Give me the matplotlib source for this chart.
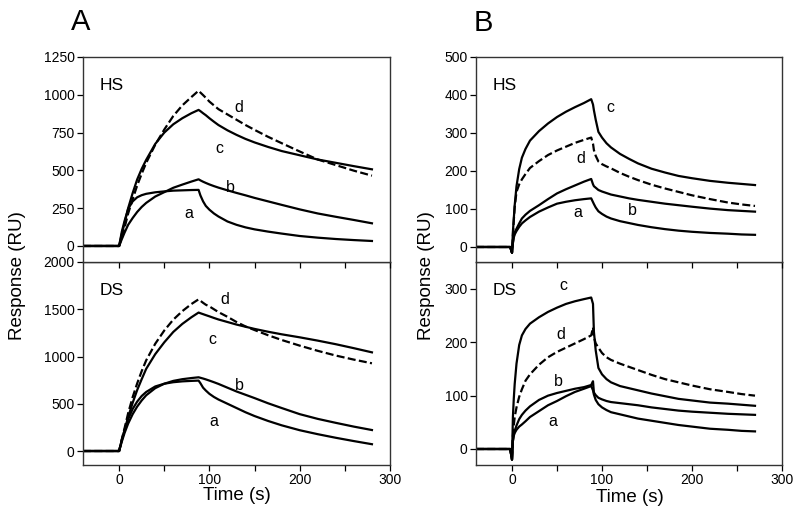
import matplotlib
matplotlib.use("Agg")
import matplotlib.pyplot as plt

plt.rcParams['font.family'] = ['Liberation Sans', 'DejaVu Sans']

# ---------------- data ----------------
# Panel A time grid (s)
t_A = [-40, -1, 0, 3, 6, 10, 15, 20, 25, 30, 40, 50, 60, 70, 80, 88, 90, 93, 96,
       100, 105, 110, 120, 130, 140, 150, 165, 180, 200, 220, 240, 260, 280]

# Panel A, HS (RU)
A_HS_a = [0, 0, 0, 95, 165, 245, 295, 322, 336, 345, 355, 361, 366, 368, 370, 371, 335, 295, 265,
          240, 215, 195, 162, 140, 123, 110, 95, 82, 66, 55, 46, 39, 33]
A_HS_b = [0, 0, 0, 45, 88, 140, 185, 225, 258, 285, 327, 356, 385, 406, 426, 441, 434, 425, 417,
          407, 396, 386, 368, 351, 335, 318, 295, 272, 242, 215, 193, 172, 150]
A_HS_c = [0, 0, 0, 80, 150, 250, 350, 440, 510, 570, 675, 750, 805, 845, 878, 900, 892, 878, 865,
          845, 822, 800, 765, 735, 708, 685, 655, 628, 600, 572, 550, 528, 507]
A_HS_d = [0, 0, 0, 55, 120, 215, 310, 400, 478, 550, 670, 770, 860, 930, 985, 1027, 1015, 998, 980,
          955, 930, 905, 870, 835, 800, 768, 722, 680, 625, 572, 535, 498, 465]

# Panel A, DS (RU)
A_DS_a = [0, 0, 0, 120, 220, 337, 445, 523, 582, 625, 683, 712, 728, 737, 742, 745, 718, 670, 640,
          605, 572, 545, 500, 455, 410, 370, 318, 272, 220, 178, 140, 105, 72]
A_DS_b = [0, 0, 0, 100, 190, 290, 390, 470, 535, 590, 665, 712, 742, 760, 772, 780, 775, 767, 758,
          745, 728, 710, 670, 630, 595, 560, 505, 455, 390, 340, 298, 258, 222]
A_DS_c = [0, 0, 0, 115, 220, 360, 510, 645, 760, 870, 1025, 1150, 1260, 1345, 1415, 1465, 1458, 1448, 1438,
          1425, 1408, 1392, 1365, 1338, 1315, 1292, 1262, 1235, 1203, 1168, 1130, 1088, 1044]
A_DS_d = [0, 0, 0, 125, 240, 400, 570, 715, 845, 960, 1135, 1275, 1390, 1480, 1555, 1605, 1590, 1568, 1548,
          1530, 1500, 1470, 1420, 1365, 1318, 1280, 1225, 1175, 1115, 1060, 1010, 967, 928]

# Panel B time grid (s)
t_B = [-40, -10, -2, 0, 1, 2, 3, 5, 8, 11, 15, 20, 30, 40, 50, 60, 70, 80, 88, 90, 91, 93, 96,
       100, 105, 110, 120, 130, 140, 155, 170, 185, 200, 220, 240, 255, 270]

# Panel B, HS (RU)
B_HS_a = [0, 0, 0, -15, 10, 25, 33, 42, 53, 62, 70, 79, 93, 104, 114, 119, 123, 126, 128, 118, 113, 104, 94,
          87, 80, 75, 68, 63, 58, 52, 47, 43, 40, 37, 35, 33, 32]
B_HS_b = [0, 0, 0, -15, 12, 28, 38, 48, 62, 75, 85, 95, 110, 126, 141, 152, 162, 172, 179, 165, 160, 156, 150,
          146, 142, 138, 133, 128, 124, 119, 114, 110, 106, 101, 97, 95, 93]
B_HS_c = [0, 0, 0, -15, 40, 75, 110, 160, 205, 235, 258, 280, 305, 325, 342, 356, 368, 379, 389, 375, 360, 335, 303,
          288, 273, 262, 245, 232, 220, 206, 196, 187, 181, 174, 169, 166, 163]
B_HS_d = [0, 0, 0, -15, 30, 70, 105, 145, 165, 178, 192, 208, 226, 242, 254, 264, 274, 282, 288, 272, 255, 240, 225,
          218, 212, 207, 195, 185, 176, 164, 154, 145, 136, 126, 117, 112, 108]

# Panel B, DS (RU)
B_DS_a = [0, 0, 0, -20, 15, 25, 30, 36, 42, 46, 52, 60, 71, 82, 90, 99, 107, 113, 118, 110, 102, 92, 84,
          78, 73, 69, 65, 61, 57, 53, 49, 45, 42, 38, 36, 34, 33]
B_DS_b = [0, 0, 0, -20, 15, 27, 34, 44, 56, 64, 72, 80, 92, 100, 105, 109, 113, 116, 120, 127, 106, 101, 96,
          93, 90, 88, 86, 84, 82, 78, 75, 72, 70, 68, 66, 65, 64]
B_DS_c = [0, 0, 0, -20, 60, 95, 122, 160, 195, 213, 225, 235, 247, 257, 265, 272, 277, 281, 284, 272, 220, 185, 152,
          140, 131, 125, 118, 114, 110, 104, 99, 94, 91, 87, 85, 83, 81]
B_DS_d = [0, 0, 0, -20, 25, 45, 60, 78, 98, 112, 128, 140, 158, 172, 182, 190, 198, 206, 213, 228, 210, 198, 190,
          180, 172, 167, 160, 154, 148, 139, 131, 125, 119, 112, 107, 103, 100]

# axis ticks
x_ticks = [0, 50, 100, 150, 200, 250, 300]
x_ticklabels = ['0', '', '100', '', '200', '', '300']
yt_A_HS = [0, 250, 500, 750, 1000, 1250]
yt_A_DS = [0, 500, 1000, 1500, 2000]
yt_B_HS = [0, 100, 200, 300, 400, 500]
yt_B_DS = [0, 100, 200, 300]

# ---------------- figure ----------------
W, H = 800, 526
fig = plt.figure(figsize=(W / 100, H / 100), dpi=100)


def add_ax(x0, y0, x1, y1):
    return fig.add_axes([x0 / W, 1 - y1 / H, (x1 - x0) / W, (y1 - y0) / H])


axA1 = add_ax(83, 57, 390, 262)
axA2 = add_ax(83, 262, 390, 465)
axB1 = add_ax(476, 57, 782, 262)
axB2 = add_ax(476, 262, 782, 465)
axA1.set_zorder(3)
axB1.set_zorder(3)

dash = (0, (3.6, 1.5))
LW = 1.6


def draw(ax, t, a, b, c, d, ylim, yticks, bottom, name, labels):
    ax.plot(t, a, color='black', lw=LW)
    ax.plot(t, b, color='black', lw=LW)
    ax.plot(t, c, color='black', lw=LW)
    ax.plot(t, d, color='black', lw=LW, linestyle=dash)
    ax.set_xlim(-40, 300)
    ax.set_ylim(*ylim)
    ax.set_yticks(yticks)
    ax.set_xticks(x_ticks)
    if bottom:
        ax.set_xticklabels(x_ticklabels)
    else:
        ax.set_xticklabels([''] * len(x_ticks))
    ax.tick_params(axis='both', direction='out', length=4, width=0.9,
                   labelsize=10, pad=2, colors='black')
    for s in ax.spines.values():
        s.set_linewidth(1.0)
        s.set_color('#333333')
    ax.text(0.055, 0.86, name, transform=ax.transAxes, fontsize=12.5,
            ha='left', va='center')
    for (lx, ly, s) in labels:
        ax.text(lx, ly, s, fontsize=11.5, ha='center', va='center')


draw(axA1, t_A, A_HS_a, A_HS_b, A_HS_c, A_HS_d, (-106, 1250), yt_A_HS, False, 'HS',
     [(133, 913, 'd'), (111, 648, 'c'), (123, 390, 'b'), (77, 212, 'a')])
draw(axA2, t_A, A_DS_a, A_DS_b, A_DS_c, A_DS_d, (-148, 2000), yt_A_DS, True, 'DS',
     [(117, 1608, 'd'), (103, 1175, 'c'), (133, 698, 'b'), (105, 317, 'a')])
draw(axB1, t_B, B_HS_a, B_HS_b, B_HS_c, B_HS_d, (-39.5, 500), yt_B_HS, False, 'HS',
     [(109, 368, 'c'), (76, 234, 'd'), (134, 97, 'b'), (73, 92, 'a')])
draw(axB2, t_B, B_DS_a, B_DS_b, B_DS_c, B_DS_d, (-30, 350.6), yt_B_DS, True, 'DS',
     [(57, 307, 'c'), (54, 214, 'd'), (52, 126, 'b'), (45, 52, 'a')])

# panel letters and axis titles
fig.text(81 / W, 1 - 22 / H, 'A', fontsize=21, ha='center', va='center')
fig.text(483 / W, 1 - 23 / H, 'B', fontsize=21, ha='center', va='center')
fig.text(18 / W, 1 - 276 / H, 'Response (RU)', fontsize=13.5, rotation=90,
         ha='center', va='center')
fig.text(427 / W, 1 - 276 / H, 'Response (RU)', fontsize=13.5, rotation=90,
         ha='center', va='center')
fig.text(237 / W, 1 - 496 / H, 'Time (s)', fontsize=13.5, ha='center', va='center')
fig.text(630 / W, 1 - 498 / H, 'Time (s)', fontsize=13.5, ha='center', va='center')

fig.savefig('out.png', dpi=100)
